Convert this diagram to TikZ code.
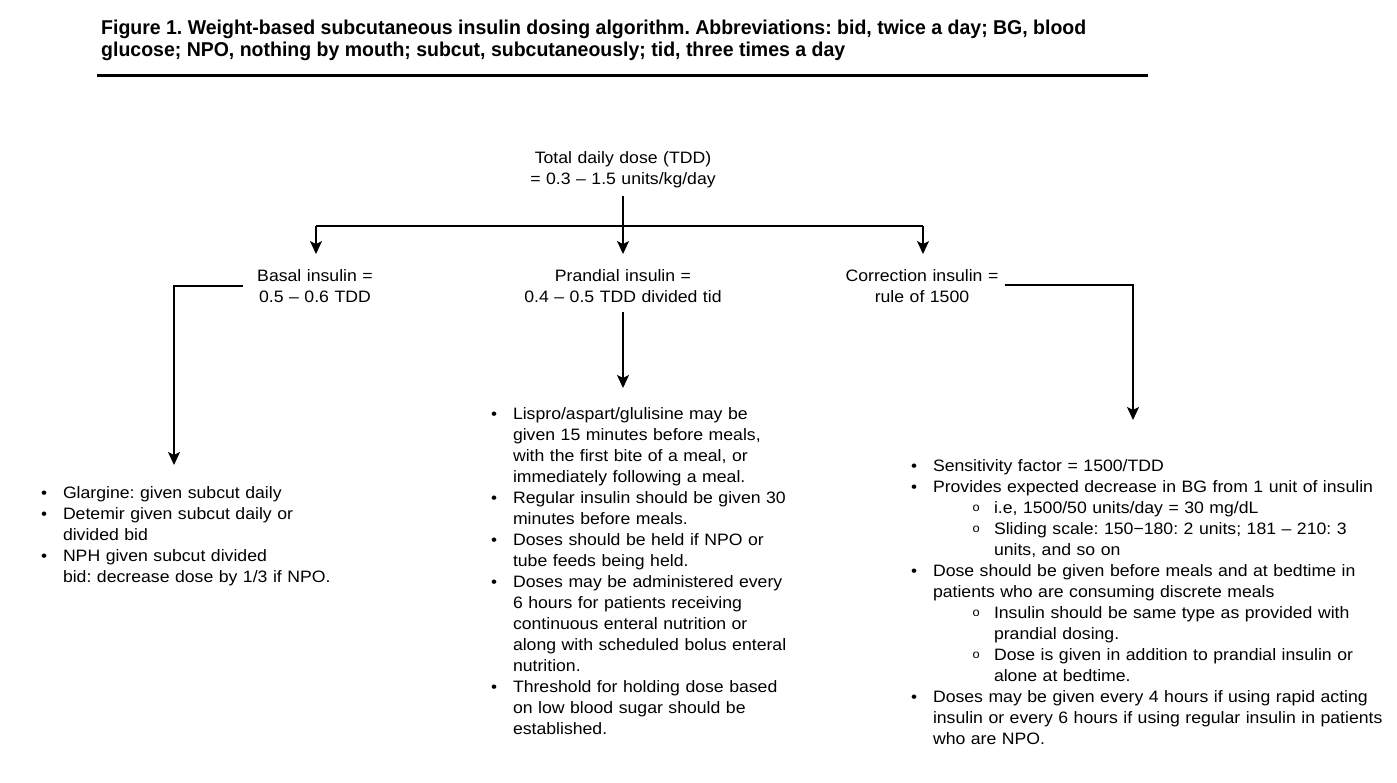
\documentclass[tikz,border=0pt]{standalone}
\usepackage{fontspec}
\setmainfont[FakeStretch=1.07]{Liberation Sans}
\newfontfamily\titlefont[FakeStretch=0.85]{Liberation Sans}
\usepackage{graphicx}
\usetikzlibrary{arrows.meta}
\frenchspacing
\newcommand\bul{\fontsize{16}{16}\selectfont\raisebox{-0.5pt}{•}}
\newcommand\sbul{\fontsize{12}{12}\selectfont\raisebox{1.5pt}{o}}
\newcommand\bitemf[1]{\hangindent=28pt\hangafter=1\noindent\makebox[28pt][l]{\hspace{6pt}\bul}#1}
\newcommand\bitem[1]{\par\bitemf{#1}}
\newcommand\sitem[1]{\par\hangindent=89pt\hangafter=1\noindent\makebox[89pt][l]{\hspace{67.5pt}\sbul}#1}
\begin{document}
\begin{tikzpicture}[x=1pt,y=-1pt,
  txt/.style={inner sep=0pt, outer sep=0pt, font=\fontsize{16.5}{21}\selectfont\frenchspacing},
  ctr/.style={txt, align=center, anchor=base},
  lst/.style={txt, align=left, anchor=base west},
  ttl/.style={inner sep=0pt, anchor=base west, font=\titlefont\fontsize{20}{22}\selectfont\bfseries\frenchspacing},
  conn/.style={line width=1.4pt},
  arr/.style={conn, -{Stealth[length=13pt,width=12pt,inset=3pt]}}]
\useasboundingbox[fill=white] (0,0) rectangle (1397,782);

% title
\node[ttl] (t1) at (101,34) {\resizebox{985pt}{\height}{Figure 1. Weight-based subcutaneous insulin dosing algorithm. Abbreviations: bid, twice a day; BG, blood}};
\node[ttl] (t2) at (101,56) {\resizebox{744pt}{\height}{glucose; NPO, nothing by mouth; subcut, subcutaneously; tid, three times a day}};
\coordinate (rl) at (97,75.5);
\coordinate (rr) at (1148,75.5);
\draw[line width=3pt] (rl) -- (rr);

% main nodes
\node[ctr, text width=260pt] (tdd) at (623,163) {Total daily dose (TDD)\\= 0.3 -- 1.5 units/kg/day};
\node[ctr, text width=140pt] (basal) at (315,281) {Basal insulin =\\0.5 -- 0.6 TDD};
\node[ctr, text width=260pt] (prand) at (623,281) {Prandial insulin =\\0.4 -- 0.5 TDD divided tid};
\node[ctr, text width=160pt] (corr) at (922,281) {Correction insulin =\\rule of 1500};

% lists
\node[lst, text width=400pt] (blist) at (35,498) {%
\bitemf{Glargine: given subcut daily}
\bitem{Detemir given subcut daily or\newline divided bid}
\bitem{NPH given subcut divided\newline bid: decrease dose by 1/3 if NPO.}\par};

\node[lst, text width=420pt] (plist) at (485,419) {%
\bitemf{Lispro/aspart/glulisine may be\newline given 15 minutes before meals,\newline with the first bite of a meal, or\newline immediately following a meal.}
\bitem{Regular insulin should be given 30\newline minutes before meals.}
\bitem{Doses should be held if NPO or\newline tube feeds being held.}
\bitem{Doses may be administered every\newline 6 hours for patients receiving\newline continuous enteral nutrition or\newline along with scheduled bolus enteral\newline nutrition.}
\bitem{Threshold for holding dose based\newline on low blood sugar should be\newline established.}\par};

\node[lst, text width=600pt] (clist) at (905,471) {%
\bitemf{Sensitivity factor = 1500/TDD}
\bitem{Provides expected decrease in BG from 1 unit of insulin}
\sitem{i.e, 1500/50 units/day = 30 mg/dL}
\sitem{Sliding scale: 150−180: 2 units; 181 -- 210: 3\newline units, and so on}
\bitem{Dose should be given before meals and at bedtime in\newline patients who are consuming discrete meals}
\sitem{Insulin should be same type as provided with\newline prandial dosing.}
\sitem{Dose is given in addition to prandial insulin or\newline alone at bedtime.}
\bitem{Doses may be given every 4 hours if using rapid acting\newline insulin or every 6 hours if using regular insulin in patients\newline who are NPO.}\par};

% connectors
\coordinate (bj) at (316,226);
\coordinate (cj) at (923,226);
\draw[arr] ([yshift=-9pt]tdd.south) -- ([yshift=15pt]tdd.south |- prand.north);
\draw[conn] (bj) -- (cj);
\draw[arr] (bj) -- ([yshift=15pt]bj |- basal.north);
\draw[arr] (cj) -- ([yshift=15pt]cj |- corr.north);

\coordinate (bk) at (174,286);
\coordinate (bs) at (243,286);
\coordinate (btip) at (174,465);
\draw[arr] (bs) -- (bk) -- (btip);

\coordinate (ptip) at (623,388);
\draw[arr] ([yshift=-10pt]prand.south) -- (ptip);

\coordinate (cs) at (1005,285);
\coordinate (ck) at (1133,285);
\coordinate (ctip) at (1133,420);
\draw[arr] (cs) -- (ck) -- (ctip);
\end{tikzpicture}
\end{document}
